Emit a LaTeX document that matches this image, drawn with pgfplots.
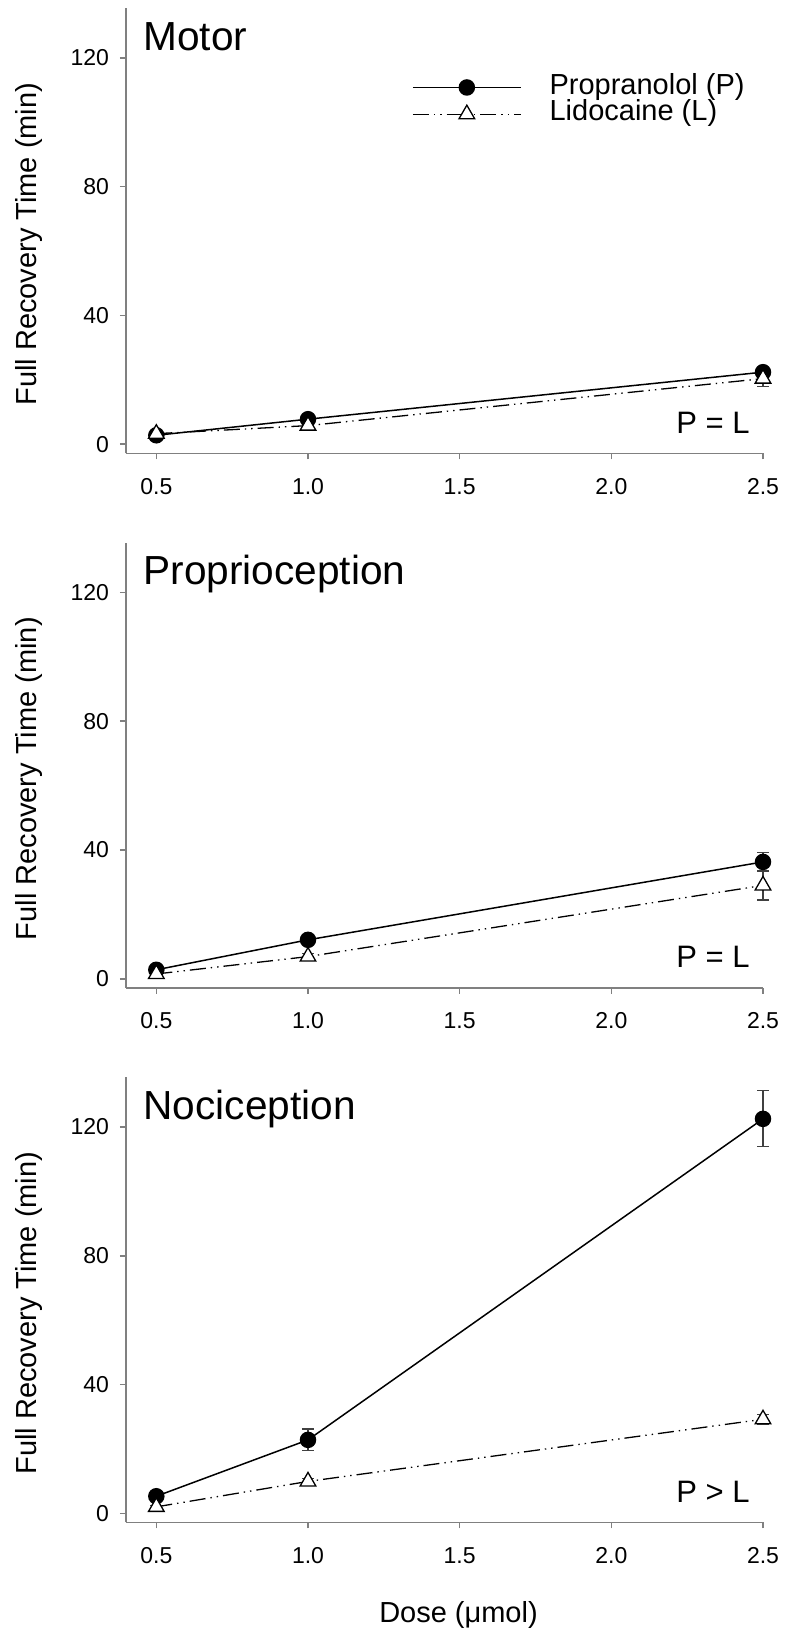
\documentclass[border=0pt]{standalone}
\usepackage{fontspec}
\setmainfont{Liberation Sans}
\usepackage{pgfplots}
\pgfplotsset{compat=1.18}

\definecolor{axgray}{RGB}{128,128,128}

\pgfplotsset{
  panel/.style={
    width=318.5pt, height=222.5pt, scale only axis,
    xmin=0.4, xmax=2.5, ymin=-2.8, ymax=135.4,
    axis x line*=bottom, axis y line*=left,
    axis line style={axgray, line width=0.8pt, -},
    xtick={0.5,1.0,1.5,2.0,2.5},
    ytick={0,40,80,120},
    x tick label style={/pgf/number format/.cd, fixed, fixed zerofill, precision=1, /tikz/.cd, yshift=-6pt},
    y tick label style={xshift=-2pt},
    tick align=outside, major tick length=3pt,
    tick style={axgray, line width=0.8pt},
    tick label style={font=\fontsize{11.5}{13}\selectfont},
    /pgf/number format/assume math mode=true,
    ylabel={Full Recovery Time (min)},
    ylabel style={at={(axis description cs:-0.152,0.47)}, anchor=center, rotate=0,
                  font=\fontsize{14.5}{17}\selectfont},
    clip=false,
  },
  pline/.style={black, line width=0.75pt, mark=*, mark size=3.75pt,
                mark options={solid, fill=black}},
  lline/.style={black, line width=0.65pt,
                dash pattern=on 8pt off 2.5pt on 0.7pt off 2.5pt on 0.7pt off 2.5pt,
                mark=triangle*, mark size=4.5pt, mark options={solid, fill=white}},
  errs/.style={error bars/.cd, y dir=both, y explicit,
               error bar style={solid, line width=0.6pt, black!75},
               error mark options={rotate=90, mark size=3pt, line width=0.6pt, black!75}},
}

\newcommand{\ttl}[1]{\node[anchor=base west, inner sep=0pt, font=\fontsize{20.3}{24}\selectfont]
  at (axis description cs:0.027,0.906) {#1};}
\newcommand{\cmp}[1]{\node[anchor=base east, inner sep=0pt, font=\fontsize{15.5}{18}\selectfont]
  at (axis description cs:1,0) [xshift=-6.5pt, yshift=10pt] {#1};}

\begin{document}
\begin{tikzpicture}
% Motor
\begin{axis}[panel, at={(0,0)}, anchor=north west,
  legend style={at={(axis description cs:0.4485,0.853)}, anchor=north west,
    draw=none, fill=none, inner sep=0pt, row sep=0pt,
    font=\fontsize{14.5}{16}\selectfont,
    nodes={inner sep=0pt, text height=10pt, text depth=3.35pt},
    /tikz/every odd column/.append style={column sep=14pt}},
  legend cell align=left,
  legend image code/.code={\draw[mark repeat=2,mark phase=2,#1]
    plot coordinates {(0pt,0pt) (27pt,0pt) (54pt,0pt)};},
]
\addplot[pline, errs] coordinates {
  (0.5,2.8) +- (0,0.5) (1.0,7.8) +- (0,1.0) (2.5,22.4) +- (0,1.5)
};
\addplot[lline, errs] coordinates {
  (0.5,3.3) +- (0,0.5) (1.0,5.8) +- (0,0.8) (2.5,20.4) +- (0,2.4)
};
\legend{Propranolol (P), Lidocaine (L)}
\ttl{Motor}
\cmp{P = L}
\end{axis}

% Proprioception
\begin{axis}[panel, at={(0,-267.25pt)}, anchor=north west]
\addplot[pline, errs] coordinates {
  (0.5,2.8) +- (0,0.5) (1.0,12.1) +- (0,1.0) (2.5,36.3) +- (0,3.0)
};
\addplot[lline, errs] coordinates {
  (0.5,1.5) +- (0,0.5) (1.0,6.9) +- (0,1.0) (2.5,29.0) +- (0,4.5)
};
\ttl{Proprioception}
\cmp{P = L}
\end{axis}

% Nociception
\begin{axis}[panel, at={(0,-534.5pt)}, anchor=north west,
  xlabel={Dose (μmol)},
  xlabel style={at={(axis description cs:0.522,0)}, anchor=base, yshift=-50.2pt,
                font=\fontsize{14.5}{17}\selectfont},
]
\addplot[pline, errs] coordinates {
  (0.5,5.3) +- (0,0.8) (1.0,22.8) +- (0,3.4) (2.5,122.5) +- (0,8.7)
};
\addplot[lline, errs] coordinates {
  (0.5,2.0) +- (0,0.5) (1.0,9.9) +- (0,1.0) (2.5,29.2) +- (0,1.5)
};
\ttl{Nociception}
\cmp{P > L}
\end{axis}

\pgfresetboundingbox
\path[use as bounding box] (-63pt,4.15pt) rectangle (329.5pt,-813.35pt);
\end{tikzpicture}
\end{document}
